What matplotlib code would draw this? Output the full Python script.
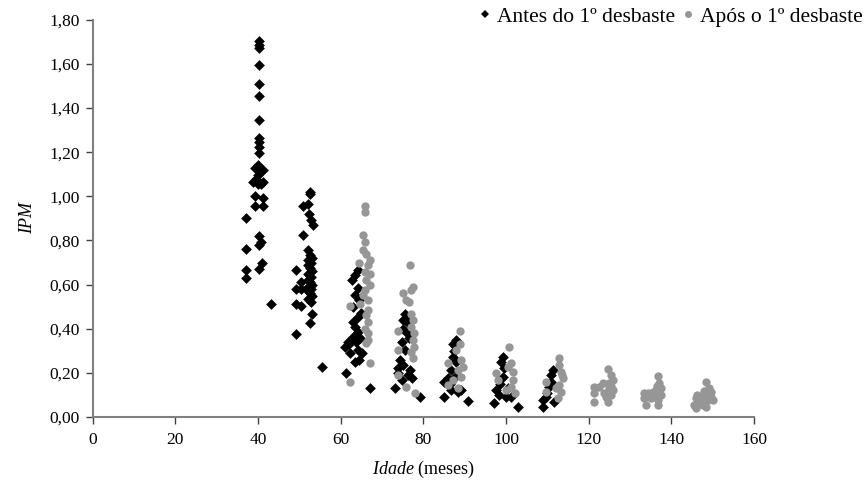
import matplotlib
matplotlib.use("Agg")
import matplotlib.pyplot as plt
from matplotlib.ticker import FuncFormatter
from matplotlib.lines import Line2D

plt.rcParams['font.family'] = ['Liberation Serif', 'DejaVu Serif']
plt.rcParams['mathtext.fontset'] = 'custom'
plt.rcParams['mathtext.rm'] = 'Liberation Serif'
plt.rcParams['mathtext.it'] = 'Liberation Serif:italic'

# Antes do 1º desbaste (black diamonds)
antes_idade = [
    40.2, 40.2, 40.2, 40.2, 40.2, 40.2, 40.2, 40.2, 40.2, 40.2, 40.2,
    39.2, 40.0, 41.2, 40.0, 38.8, 40.0, 40.8, 41.2, 39.6,
    39.4, 41.2, 39.4, 41.2, 37.1, 40.2, 40.8, 40.2, 37.1, 41.0, 40.2, 37.1, 37.1,
    52.5, 52.5, 50.8, 52.0, 52.3, 52.8, 53.3, 50.8,
    52.0, 52.5, 53.0, 52.2, 52.8, 52.0, 52.5, 53.0, 52.2, 52.8,
    52.0, 52.5, 53.0, 52.2, 52.8, 52.0, 52.5, 53.0, 52.2, 52.8,
    49.2, 49.2, 49.2, 50.5, 50.5, 50.5, 53.0, 52.5, 49.2, 55.4, 43.1,
    64.1, 63.4, 62.7, 64.1, 63.4, 64.5, 63.0, 64.1, 63.0, 63.4, 64.1, 63.0, 63.8,
    61.7, 61.0, 62.3, 64.1, 65.1, 64.5, 63.4, 61.2, 67.0, 62.5, 64.8, 65.0, 62.0,
    75.6, 75.2, 76.4, 76.0, 74.8, 75.6, 74.4, 75.2, 76.8, 76.4, 73.8, 77.2, 74.8,
    73.1, 79.1, 76.0, 75.0, 76.5, 74.0,
    88.0, 87.2, 87.2, 86.8, 87.6, 86.0, 85.1, 86.8, 88.4, 89.2, 85.1, 90.9, 87.5, 88.0, 86.5,
    99.2, 98.8, 99.2, 97.6, 98.4, 100.0, 101.3, 97.2, 102.9, 99.5, 98.5, 100.5,
    111.3, 110.9, 110.5, 109.7, 108.9, 111.7, 108.9, 111.0, 110.0,
]
antes_ipm = [
    1.706, 1.688, 1.673, 1.596, 1.510, 1.457, 1.347, 1.266, 1.246, 1.223, 1.198,
    1.127, 1.140, 1.118, 1.095, 1.065, 1.054, 1.054, 1.065, 1.080,
    1.001, 0.992, 0.956, 0.956, 0.902, 0.820, 0.795, 0.778, 0.760, 0.700, 0.672, 0.668, 0.632,
    1.020, 1.010, 0.955, 0.967, 0.920, 0.891, 0.869, 0.823,
    0.755, 0.735, 0.720, 0.710, 0.700, 0.690, 0.675, 0.660, 0.650, 0.635,
    0.620, 0.610, 0.600, 0.590, 0.580, 0.570, 0.560, 0.550, 0.535, 0.520,
    0.665, 0.578, 0.514, 0.612, 0.578, 0.505, 0.469, 0.424, 0.376, 0.225, 0.511,
    0.665, 0.643, 0.620, 0.584, 0.552, 0.529, 0.500, 0.454, 0.431, 0.409, 0.386, 0.363, 0.341,
    0.341, 0.318, 0.288, 0.303, 0.288, 0.258, 0.250, 0.198, 0.130, 0.350, 0.360, 0.470, 0.330,
    0.469, 0.439, 0.424, 0.379, 0.341, 0.303, 0.258, 0.235, 0.213, 0.190, 0.220, 0.175, 0.167,
    0.130, 0.092, 0.450, 0.400, 0.360, 0.200,
    0.348, 0.333, 0.273, 0.213, 0.182, 0.175, 0.160, 0.122, 0.114, 0.122, 0.089, 0.074, 0.300, 0.250, 0.150,
    0.273, 0.250, 0.182, 0.122, 0.100, 0.092, 0.089, 0.062, 0.047, 0.220, 0.150, 0.130,
    0.213, 0.190, 0.137, 0.092, 0.077, 0.069, 0.047, 0.160, 0.110,
]

# Após o 1º desbaste (gray circles)
apos_idade = [
    65.8, 65.8, 65.4, 65.8, 65.4, 66.2, 67.0, 66.6, 64.5, 65.8, 67.0, 65.8, 65.4,
    66.6, 64.8, 62.3, 66.6, 66.2, 66.6, 65.8, 66.6, 66.6, 67.0, 62.3, 67.0, 66.2, 66.2,
    76.9, 75.0, 77.1, 77.4, 75.8, 76.6, 77.1, 77.4, 77.1, 77.8, 73.9, 77.4, 77.8,
    77.1, 73.9, 77.4, 73.9, 75.8, 77.9,
    88.8, 88.0, 88.8, 89.2, 89.6, 88.4, 86.0, 89.2, 85.9, 88.4, 87.2,
    100.8, 101.3, 101.6, 101.6, 101.3, 97.6, 98.0, 100.4, 100.0, 102.1,
    112.8, 112.8, 113.3, 113.7, 112.9, 113.3, 112.5, 109.7, 109.7, 113.5, 112.0,
    124.6, 125.4, 125.8, 125.0, 125.8, 125.4, 124.6, 123.4, 122.6, 121.4, 121.4, 121.4,
    124.2, 124.8, 125.5, 123.8,
    136.7, 137.1, 137.5, 136.3, 135.5, 134.3, 133.5, 137.5, 136.7, 133.5, 133.9, 136.7,
    135.1, 136.5, 135.8, 137.0,
    148.5, 149.6, 148.4, 147.6, 146.3, 145.9, 150.0, 148.8, 146.7, 145.5, 148.4, 145.9,
    147.6, 149.0, 148.0, 149.5,
]
apos_ipm = [
    0.955, 0.929, 0.824, 0.793, 0.756, 0.741, 0.710, 0.688, 0.698, 0.657, 0.650, 0.575, 0.552,
    0.529, 0.514, 0.502, 0.484, 0.462, 0.431, 0.401, 0.379, 0.348, 0.243, 0.160, 0.600, 0.620, 0.335,
    0.688, 0.562, 0.575, 0.587, 0.529, 0.519, 0.469, 0.439, 0.409, 0.379, 0.389, 0.348, 0.318,
    0.296, 0.303, 0.266, 0.190, 0.137, 0.107,
    0.390, 0.303, 0.333, 0.258, 0.228, 0.213, 0.243, 0.182, 0.145, 0.130, 0.167,
    0.315, 0.243, 0.205, 0.167, 0.137, 0.198, 0.167, 0.228, 0.122, 0.107,
    0.266, 0.235, 0.205, 0.175, 0.145, 0.114, 0.085, 0.160, 0.114, 0.190, 0.130,
    0.216, 0.190, 0.167, 0.152, 0.122, 0.100, 0.069, 0.152, 0.137, 0.137, 0.107, 0.069,
    0.092, 0.130, 0.140, 0.110,
    0.186, 0.152, 0.130, 0.122, 0.114, 0.107, 0.107, 0.100, 0.077, 0.085, 0.054, 0.054,
    0.085, 0.140, 0.095, 0.115,
    0.160, 0.114, 0.107, 0.092, 0.100, 0.085, 0.077, 0.077, 0.062, 0.054, 0.047, 0.039,
    0.054, 0.130, 0.120, 0.090,
]

x_ticks = [0, 20, 40, 60, 80, 100, 120, 140, 160]
y_ticks = [0.0, 0.2, 0.4, 0.6, 0.8, 1.0, 1.2, 1.4, 1.6, 1.8]

black = '#000000'
gray = '#969696'
spine_c = '#808080'

fig = plt.figure(figsize=(8.68, 4.97), dpi=100)
ax = fig.add_axes([0.1066, 0.161, 0.7621, 0.799])

ax.scatter(antes_idade, antes_ipm, marker='D', s=30, c=black, linewidths=0, zorder=3)
ax.scatter(apos_idade, apos_ipm, marker='o', s=36, c=gray, linewidths=0, zorder=4)

ax.set_xlim(0, 160)
ax.set_ylim(0, 1.8)
ax.set_xticks(x_ticks)
ax.set_yticks(y_ticks)
ax.yaxis.set_major_formatter(FuncFormatter(lambda v, p: f"{v:.2f}".replace('.', ',')))
ax.xaxis.set_major_formatter(FuncFormatter(lambda v, p: f"{int(round(v))}"))

for s in ['top', 'right']:
    ax.spines[s].set_visible(False)
for s in ['left', 'bottom']:
    ax.spines[s].set_color(spine_c)
    ax.spines[s].set_linewidth(1.5)
ax.tick_params(axis='both', direction='out', length=5, width=1.0, color='#404040',
               labelsize=12.5, labelcolor='black')
ax.tick_params(axis='x', pad=6)
ax.tick_params(axis='y', pad=4)

ax.set_ylabel('IPM', fontsize=13, fontstyle='italic', labelpad=10)
ax.set_xlabel(r'$\mathit{Idade}$ (meses)', fontsize=13, labelpad=8)

handles = [
    Line2D([], [], marker='D', color=black, linestyle='none', markersize=4.5, markeredgewidth=0),
    Line2D([], [], marker='o', color=gray, linestyle='none', markersize=5, markeredgewidth=0),
]
fig.legend(handles, ['Antes do 1º desbaste', 'Após o 1º desbaste'], loc='upper right',
           bbox_to_anchor=(1.016, 1.025), ncol=2, frameon=False, fontsize=15.5,
           handletextpad=0.15, columnspacing=0.2, handlelength=0.8)

fig.savefig('out.png', dpi=100)
